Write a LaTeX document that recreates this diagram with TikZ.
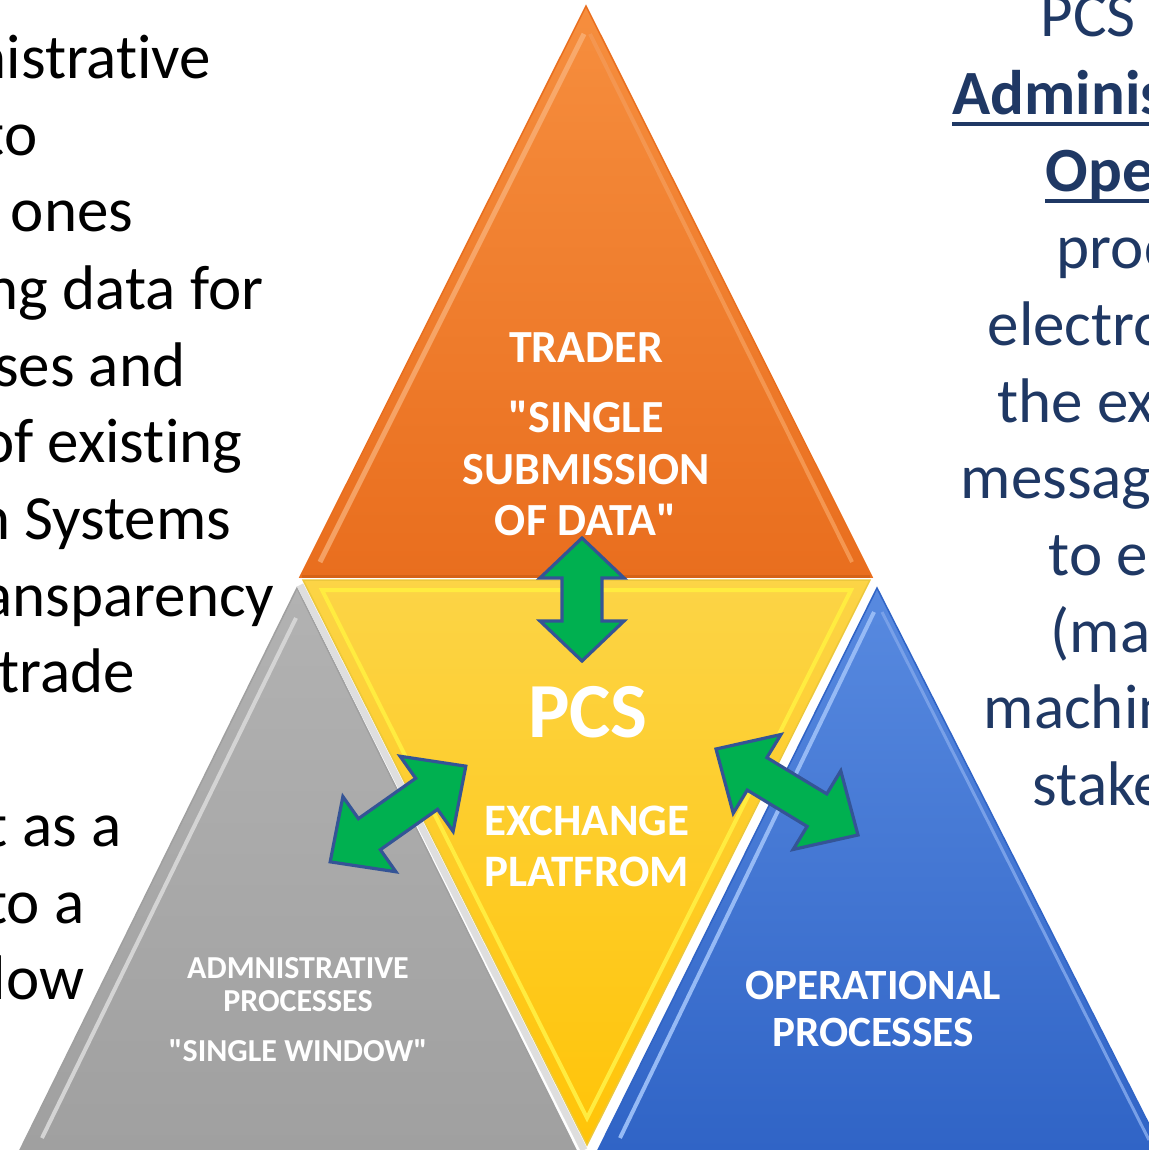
\documentclass[tikz,border=0pt]{standalone}
\usepackage{fontspec}
\setmainfont{Carlito}[Ligatures={TeXOff,CommonOff}]
\usetikzlibrary{calc}

\definecolor{pcsNavy}{RGB}{31,56,100}
\definecolor{arrowGreen}{RGB}{0,176,80}
\definecolor{arrowEdge}{RGB}{52,84,150}
\definecolor{traderTop}{RGB}{246,142,62}
\definecolor{traderBot}{RGB}{233,110,30}
\definecolor{pcsTop}{RGB}{252,212,70}
\definecolor{pcsBot}{RGB}{255,196,8}
\definecolor{admTop}{RGB}{178,178,178}
\definecolor{admBot}{RGB}{160,160,160}
\definecolor{opTop}{RGB}{88,138,224}
\definecolor{opBot}{RGB}{48,100,198}

\tikzset{every picture/.style={line width=0.75pt}}
\tikzset{
  leftline/.style={anchor=base east, inner sep=0pt, text=black, font=\fontsize{31.5}{38}\selectfont},
  rightline/.style={anchor=base west, inner sep=0pt, text=pcsNavy, font=\fontsize{31.5}{38}\selectfont},
  rightbold/.style={rightline, font=\bfseries\fontsize{31.5}{38}\selectfont},
  trilabel/.style={anchor=base, inner sep=0pt, text=white, font=\bfseries\fontsize{23}{25}\selectfont},
  greylabel/.style={trilabel, font=\bfseries\fontsize{16}{18}\selectfont},
  blockarrow/.style={fill=arrowGreen, draw=arrowEdge, line width=1.6pt, line join=miter},
}

\begin{document}
\begin{tikzpicture}[x=0.5pt,y=0.5pt,yscale=-1,xscale=1]
	\useasboundingbox (0,0) rectangle (1149,1150);
	\clip (0,0) rectangle (1149,1150);

	%Shape: Triangle [id:trader]
	\draw [draw=traderBot, top color=traderTop, bottom color=traderBot] (586,6) -- (300,577) -- (872,577) -- cycle ;
	\draw [draw={rgb, 255:red, 250; green, 182; blue, 128 }, line width=2.5pt, opacity=0.7] (584,34) -- (320,562) ;
	\draw [draw={rgb, 255:red, 244; green, 150; blue, 80 }, line width=2pt] (590,34) -- (852,562) ;
	\draw [draw={rgb, 255:red, 214; green, 98; blue, 22 }, line width=1.5pt] (302,576) -- (870,576) ;

	%Shape: Triangle [id:adm]
	\draw [draw=admBot, top color=admTop, bottom color=admBot] (297,588) -- (20,1150) -- (576,1150) -- cycle ;
	\draw [draw={rgb, 255:red, 212; green, 212; blue, 212 }, line width=2pt] (296,618) -- (42,1138) ;
	\draw [draw={rgb, 255:red, 222; green, 222; blue, 222 }, line width=3.5pt] (300,585) -- (584,1150) ;

	%Shape: Triangle [id:op]
	\draw [draw=opBot, top color=opTop, bottom color=opBot] (877,588) -- (598,1150) -- (1162,1150) -- cycle ;
	\draw [draw={rgb, 255:red, 150; green, 186; blue, 245 }, line width=2pt] (874,612) -- (620,1138) ;
	\draw [draw={rgb, 255:red, 120; green, 160; blue, 232 }, line width=1.5pt] (882,612) -- (1149,1140) ;

	%Shape: Triangle [id:pcs]
	\draw [draw={rgb, 255:red, 236; green, 200; blue, 60 }, top color=pcsTop, bottom color=pcsBot] (303,580) -- (870,580) -- (587,1145) -- cycle ;
	\draw [draw={rgb, 255:red, 255; green, 236; blue, 64 }, line width=2pt] (322,590) -- (851,590) -- (587,1118) -- cycle ;

	%Shape: Double Arrow [id:arrUp]
	\draw [blockarrow, shift={(582,599.5)}, rotate=90] (-61.5,0) -- (-21.5,-42) -- (-21.5,-20) -- (21.5,-20) -- (21.5,-42) -- (61.5,0) -- (21.5,42) -- (21.5,20) -- (-21.5,20) -- (-21.5,42) -- cycle ;
	%Shape: Double Arrow [id:arrLeft]
	\draw [blockarrow, shift={(398,814)}, rotate=-35.2] (-83,0) -- (-35,-46) -- (-35,-19) -- (35,-19) -- (35,-46) -- (83,0) -- (35,46) -- (35,19) -- (-35,19) -- (-35,46) -- cycle ;
	%Shape: Double Arrow [id:arrRight]
	\draw [blockarrow, shift={(787,792)}, rotate=31.2] (-83,0) -- (-35,-46) -- (-35,-19) -- (35,-19) -- (35,-46) -- (83,0) -- (35,46) -- (35,19) -- (-35,19) -- (-35,46) -- cycle ;

	% Text Node
	\node [trilabel] (trader) at (586,362) {TRADER};
	\node [trilabel] (single) at (586,432) {"SINGLE};
	\node [trilabel] (submission) at (586,484) {SUBMISSION};
	\node [trilabel] (ofdata) at (586,535) {OF DATA"};
	% Text Node
	\node [trilabel, font=\bfseries\fontsize{39}{42}\selectfont] (pcs) at (588,737) {PCS};
	\node [trilabel, font=\bfseries\fontsize{22.5}{24}\selectfont] (exchange) at (587,835) {EXCHANGE};
	\node [trilabel, font=\bfseries\fontsize{22.5}{24}\selectfont] (platform) at (587,886) {PLATFROM};
	% Text Node
	\node [greylabel] (admproc) at (298,978) {ADMNISTRATIVE};
	\node [greylabel] (admproc2) at (298,1011) {PROCESSES};
	\node [greylabel] (window) at (298,1061) {"SINGLE WINDOW"};
	% Text Node
	\node [trilabel, font=\bfseries\fontsize{21.6}{23}\selectfont] (oper) at (873,999) {OPERATIONAL};
	\node [trilabel, font=\bfseries\fontsize{21.6}{23}\selectfont] (oper2) at (873,1046) {PROCESSES};

	% Text Node
	\node [leftline] (l1) at (212,79) {nistrative};
	\node [leftline] (l2) at (38,156) {to};
	\node [leftline] (l3) at (134,232) {ones};
	\node [leftline] (l4) at (264,309) {ng data for};
	\node [leftline] (l5) at (186,386) {ses and};
	\node [leftline] (l6) at (243,462) {of existing};
	\node [leftline] (l7) at (232,539) {n Systems};
	\node [leftline] (l8) at (275,616) {ansparency};
	\node [leftline] (l9) at (136,692) {trade};
	\node [leftline] (l10) at (122,846) {t as a};
	\node [leftline] (l11) at (85,923) {to a};
	\node [leftline] (l12) at (85,999) {low};

	% Text Node
	\node [rightline] (r1) at (1040,37) {PCS};
	\node [rightbold] (r2) at (952,115) {Adminis};
	\node [rightbold] (r3) at (1045,192) {Ope};
	\node [rightline] (r4) at (1056,268) {proc};
	\node [rightline] (r5) at (987,345) {electro};
	\node [rightline] (r6) at (997,422) {the ex};
	\node [rightline] (r7) at (960,498) {messag};
	\node [rightline] (r8) at (1048,575) {to e};
	\node [rightline] (r9) at (1050,652) {(ma};
	\node [rightline] (r10) at (983,728) {machin};
	\node [rightline] (r11) at (1032,805) {stake};
	%Straight Lines [underline]
	\draw [pcsNavy, line width=1.6pt] ($(r2.base west)+(0,9)$) -- (1149,124) ;
	\draw [pcsNavy, line width=1.6pt] ($(r3.base west)+(0,9)$) -- (1149,201) ;

\end{tikzpicture}
\end{document}
